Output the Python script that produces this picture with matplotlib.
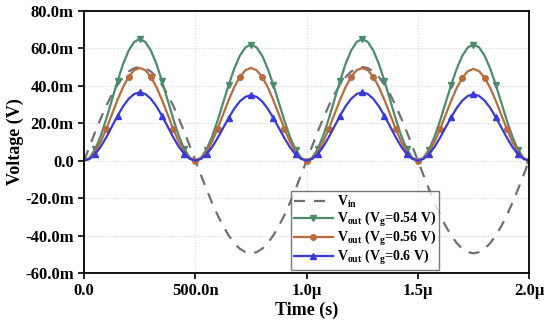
import matplotlib
matplotlib.use("Agg")
import matplotlib.pyplot as plt
import numpy as np

plt.rcParams['font.family'] = ['Liberation Serif', 'DejaVu Serif']
plt.rcParams['font.weight'] = 'bold'
plt.rcParams['mathtext.fontset'] = 'custom'
plt.rcParams['mathtext.rm'] = 'Liberation Serif:bold'
plt.rcParams['mathtext.it'] = 'Liberation Serif:bold'
plt.rcParams['mathtext.bf'] = 'Liberation Serif:bold'

# sample grid, microseconds (0.025 us step)
t_us = np.linspace(0.0, 2.0, 81)

# voltages in mV, one list per half period
vin_pos = [0, 7.8, 15.5, 22.7, 29.4, 35.4, 40.5, 44.6, 47.6, 49.4, 50.0,
           49.4, 47.6, 44.6, 40.5, 35.4, 29.4, 22.7, 15.5, 7.8, 0]
vin_neg = [0, -7.7, -15.3, -22.5, -29.1, -35.0, -40.0, -44.1, -47.1, -48.9, -49.5,
           -48.9, -47.1, -44.1, -40.0, -35.0, -29.1, -22.5, -15.3, -7.7, 0]

g_hi = [0, 1.6, 6.2, 13.4, 22.5, 32.5, 42.5, 51.6, 58.8, 63.4, 65.0,
        63.4, 58.8, 51.6, 42.5, 32.5, 22.5, 13.4, 6.2, 1.6, 0]
g_lo = [0, 1.5, 5.9, 12.8, 21.4, 31.0, 40.6, 49.2, 56.1, 60.5, 62.0,
        60.5, 56.1, 49.2, 40.6, 31.0, 21.4, 12.8, 5.9, 1.5, 0]
o_hi = [0, 1.2, 4.7, 10.2, 17.1, 24.8, 32.4, 39.3, 44.8, 48.3, 49.5,
        48.3, 44.8, 39.3, 32.4, 24.8, 17.1, 10.2, 4.7, 1.2, 0]
o_lo = [0, 1.2, 4.7, 10.1, 16.9, 24.5, 32.1, 38.9, 44.3, 47.8, 49.0,
        47.8, 44.3, 38.9, 32.1, 24.5, 16.9, 10.1, 4.7, 1.2, 0]
b_hi = [0, 0.9, 3.5, 7.5, 12.6, 18.3, 23.9, 29.0, 33.0, 35.6, 36.5,
        35.6, 33.0, 29.0, 23.9, 18.3, 12.6, 7.5, 3.5, 0.9, 0]
b_lo = [0, 0.9, 3.3, 7.2, 12.1, 17.5, 22.9, 27.8, 31.7, 34.1, 35.0,
        34.1, 31.7, 27.8, 22.9, 17.5, 12.1, 7.2, 3.3, 0.9, 0]
b_mid = [0, 0.9, 3.4, 7.3, 12.3, 17.8, 23.2, 28.2, 32.1, 34.6, 35.5,
         34.6, 32.1, 28.2, 23.2, 17.8, 12.3, 7.3, 3.4, 0.9, 0]

v_in = vin_pos + vin_neg[1:] + vin_pos[1:] + vin_neg[1:]
v_054 = g_hi + g_lo[1:] + g_hi[1:] + g_lo[1:]
v_056 = o_hi + o_hi[1:] + o_hi[1:] + o_lo[1:]
v_060 = b_hi + b_lo[1:] + b_hi[1:] + b_mid[1:]

xticks = [0.0, 0.5, 1.0, 1.5, 2.0]
xticklabels = ['0.0', '500.0n', '1.0\u00b5', '1.5\u00b5', '2.0\u00b5']
yticks = [-60, -40, -20, 0, 20, 40, 60, 80]
yticklabels = ['-60.0m', '-40.0m', '-20.0m', '0.0', '20.0m', '40.0m', '60.0m', '80.0m']

fig = plt.figure(figsize=(5.5, 3.2), dpi=100)
ax = fig.add_axes([0.153, 0.147, 0.809, 0.819])

ax.plot(t_us, v_in, color='#707070', lw=1.6, ls=(0, (5, 4)),
        label='V$_{\\rm in}$')
ax.plot(t_us, v_054, color='#4c8c6c', lw=1.6, marker='v', ms=4,
        markevery=(2, 4), label='V$_{\\rm out}$ (V$_{\\rm g}$=0.54 V)')
ax.plot(t_us, v_056, color='#b86c3c', lw=1.6, marker='o', ms=4,
        markevery=(4, 4), label='V$_{\\rm out}$ (V$_{\\rm g}$=0.56 V)')
ax.plot(t_us, v_060, color='#3a3ad8', lw=1.6, marker='^', ms=4,
        markevery=(2, 4), label='V$_{\\rm out}$ (V$_{\\rm g}$=0.6 V)')

ax.set_xlim(0, 2.0)
ax.set_ylim(-60, 80)
ax.set_xticks(xticks)
ax.set_xticklabels(xticklabels)
ax.set_yticks(yticks)
ax.set_yticklabels(yticklabels)
ax.tick_params(labelsize=12, width=1.2, length=4)
for lab in ax.get_xticklabels() + ax.get_yticklabels():
    lab.set_fontweight('bold')
for s in ax.spines.values():
    s.set_linewidth(1.3)

ax.grid(True, color='#d8d8d8', ls=':', lw=0.8)
ax.set_xlabel('Time (s)', fontsize=13, fontweight='bold', labelpad=2)
ax.set_ylabel('Voltage (V)', fontsize=13, fontweight='bold', labelpad=1)

leg = ax.legend(loc='lower left', bbox_to_anchor=(0.465, 0.012), fontsize=10,
                frameon=True, fancybox=False, edgecolor='#555555',
                handlelength=2.8, handletextpad=0.3, borderpad=0.2,
                labelspacing=0.0, borderaxespad=0)
leg.get_frame().set_linewidth(1.0)

fig.savefig('out.png', dpi=100)
